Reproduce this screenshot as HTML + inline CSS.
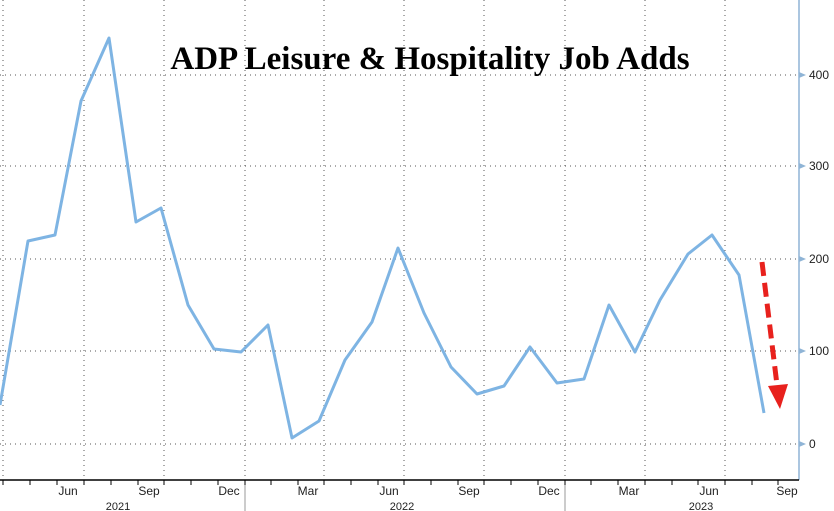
<!DOCTYPE html>
<html><head><meta charset="utf-8"><style>
body{margin:0;background:#fff;}
svg{display:block;font-family:"Liberation Sans",sans-serif;}
</style></head><body>
<svg width="834" height="511" viewBox="0 0 834 511">
<rect width="834" height="511" fill="#fff"/>
<g stroke="#555" stroke-width="1" stroke-dasharray="1,4">
<line x1="0" y1="75" x2="798" y2="75"/>
<line x1="0" y1="166" x2="798" y2="166"/>
<line x1="0" y1="259" x2="798" y2="259"/>
<line x1="0" y1="351" x2="798" y2="351"/>
<line x1="0" y1="444" x2="798" y2="444"/>
<line x1="84" y1="0" x2="84" y2="480"/>
<line x1="164" y1="0" x2="164" y2="480"/>
<line x1="245" y1="0" x2="245" y2="480"/>
<line x1="324" y1="0" x2="324" y2="480"/>
<line x1="404" y1="0" x2="404" y2="480"/>
<line x1="484" y1="0" x2="484" y2="480"/>
<line x1="565" y1="0" x2="565" y2="480"/>
<line x1="645" y1="0" x2="645" y2="480"/>
<line x1="725" y1="0" x2="725" y2="480"/>
<line x1="3" y1="0" x2="3" y2="480"/>
</g>
<line x1="799" y1="0" x2="799" y2="480" stroke="#8fb4d6" stroke-width="1.5"/>
<line x1="0" y1="480" x2="799" y2="480" stroke="#000" stroke-width="1.5"/>
<g stroke="#000" stroke-width="1">
<line x1="3" y1="480" x2="3" y2="485"/><line x1="30" y1="480" x2="30" y2="485"/><line x1="57" y1="480" x2="57" y2="485"/><line x1="84" y1="480" x2="84" y2="485"/><line x1="111" y1="480" x2="111" y2="485"/><line x1="138" y1="480" x2="138" y2="485"/><line x1="164" y1="480" x2="164" y2="485"/><line x1="191" y1="480" x2="191" y2="485"/><line x1="218" y1="480" x2="218" y2="485"/><line x1="245" y1="480" x2="245" y2="485"/><line x1="271" y1="480" x2="271" y2="485"/><line x1="298" y1="480" x2="298" y2="485"/><line x1="324" y1="480" x2="324" y2="485"/><line x1="351" y1="480" x2="351" y2="485"/><line x1="378" y1="480" x2="378" y2="485"/><line x1="404" y1="480" x2="404" y2="485"/><line x1="431" y1="480" x2="431" y2="485"/><line x1="458" y1="480" x2="458" y2="485"/><line x1="484" y1="480" x2="484" y2="485"/><line x1="511" y1="480" x2="511" y2="485"/><line x1="538" y1="480" x2="538" y2="485"/><line x1="565" y1="480" x2="565" y2="485"/><line x1="591" y1="480" x2="591" y2="485"/><line x1="618" y1="480" x2="618" y2="485"/><line x1="645" y1="480" x2="645" y2="485"/><line x1="672" y1="480" x2="672" y2="485"/><line x1="698" y1="480" x2="698" y2="485"/><line x1="725" y1="480" x2="725" y2="485"/><line x1="752" y1="480" x2="752" y2="485"/><line x1="778" y1="480" x2="778" y2="485"/>
</g>
<line x1="245" y1="485" x2="245" y2="511" stroke="#999"/>
<line x1="565" y1="485" x2="565" y2="511" stroke="#999"/>
<g font-size="12" fill="#222" text-anchor="middle">
<text x="68" y="495">Jun</text><text x="149" y="495">Sep</text><text x="229" y="495">Dec</text><text x="308" y="495">Mar</text><text x="389" y="495">Jun</text><text x="469" y="495">Sep</text><text x="549" y="495">Dec</text><text x="629" y="495">Mar</text><text x="709" y="495">Jun</text><text x="787" y="495">Sep</text>
<text x="118" y="510" font-size="11">2021</text><text x="402" y="510" font-size="11">2022</text><text x="701" y="510" font-size="11">2023</text>
</g>
<g font-size="12" fill="#222">
<text x="809" y="79">400</text><text x="809" y="170">300</text><text x="809" y="263">200</text><text x="809" y="355">100</text><text x="809" y="448">0</text>
</g>
<g fill="#8fb4d6">
<polygon points="799,72 806,75 799,78"/><polygon points="799,163 806,166 799,169"/><polygon points="799,256 806,259 799,262"/><polygon points="799,348 806,351 799,354"/><polygon points="799,441 806,444 799,447"/>
</g>
<polyline fill="none" stroke="#7eb4e3" stroke-width="3" stroke-linejoin="round" points="0,405 28,241 55,235 81,101 109,38 136,222 161,208 188,305 214,349 241,352 268,325 292,438 319,421 345,360 372,322 398,248 424,313 451,367 477,394 504,386 530,347 557,383 584,379 609,305 635,352 660,300 688,254 712,235 739,275 764,413"/>
<line x1="762" y1="262" x2="777" y2="385" stroke="#e8211d" stroke-width="5" stroke-dasharray="14,7"/>
<polygon points="768,386 788,384 780,409" fill="#e8211d"/>
<text x="430" y="69" font-family="'Liberation Serif',serif" font-weight="bold" font-size="33" text-anchor="middle" fill="#000">ADP Leisure &amp; Hospitality Job Adds</text>
</svg>
</body></html>
